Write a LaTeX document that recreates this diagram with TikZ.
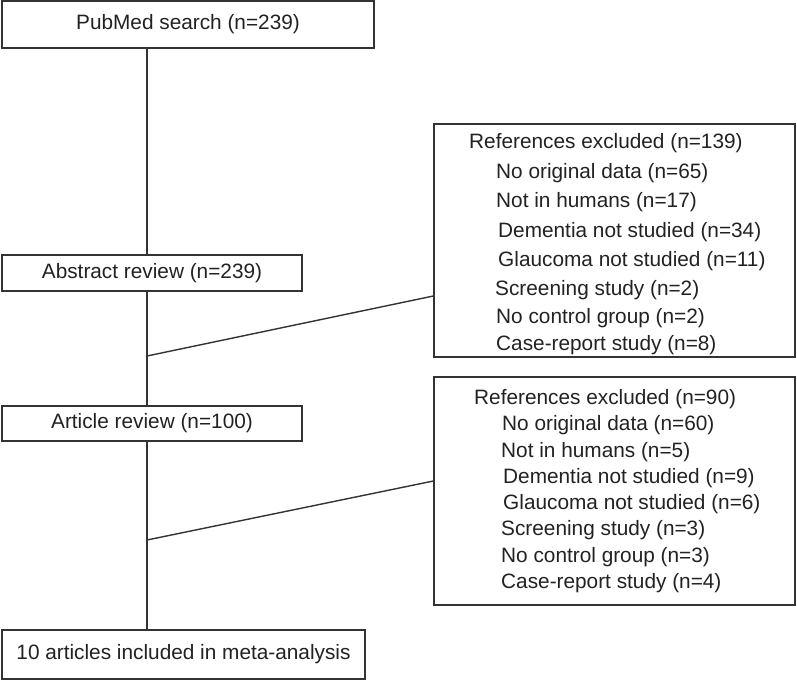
\documentclass[tikz,border=0pt]{standalone}
\usepackage{fontspec}
\setmainfont{Liberation Sans}
\definecolor{ink}{HTML}{222222}
\definecolor{edge}{HTML}{333333}
\begin{document}
\begin{tikzpicture}[x=1pt,y=-1pt,
  box/.style={draw=edge, line width=1.4pt, rectangle, inner sep=0pt, text=ink,
    font=\fontsize{20.8}{25}\selectfont},
  item/.style={anchor=base west, inner sep=0pt, text=ink,
    font=\fontsize{20.8}{25}\selectfont},
  conn/.style={draw=edge, line width=1.4pt}]
\useasboundingbox (0,0) rectangle (797,681);
\fill[white] (0,0) rectangle (797,681);
% left column boxes
\node[box, minimum width=372pt, minimum height=47pt] (pub) at (188,24.5) {PubMed search (n=239)};
\node[box, minimum width=300pt, minimum height=36pt] (abs) at (152,273) {\raisebox{1.5pt}{Abstract review (n=239)}};
\node[box, minimum width=300pt, minimum height=35pt] (art) at (152,423.5) {\raisebox{1.5pt}{Article review (n=100)}};
\node[box, minimum width=363pt, minimum height=49pt] (fin) at (183.5,654.5) {10 articles included in meta-analysis};
% right boxes
\node[box, minimum width=361pt, minimum height=233pt] (ex1) at (614.5,240.5) {};
\node[box, minimum width=361pt, minimum height=228pt] (ex2) at (614.5,491) {};
% texts of right box 1
\node[item] (a1) at (469,148.5) {References excluded (n=139)};
\node[item] (a2) at (496,178) {No original data (n=65)};
\node[item] (a3) at (496,207.5) {Not in humans (n=17)};
\node[item] (a4) at (498,237) {Dementia not studied (n=34)};
\node[item] (a5) at (498,266) {Glaucoma not studied (n=11)};
\node[item] (a6) at (495,295) {Screening study (n=2)};
\node[item] (a7) at (496,323) {No control group (n=2)};
\node[item] (a8) at (496,350.5) {Case-report study (n=8)};
% texts of right box 2
\node[item] (b1) at (474,404) {References excluded (n=90)};
\node[item] (b2) at (502,430.5) {No original data (n=60)};
\node[item] (b3) at (501,457) {Not in humans (n=5)};
\node[item] (b4) at (503,483) {Dementia not studied (n=9)};
\node[item] (b5) at (503,509) {Glaucoma not studied (n=6)};
\node[item] (b6) at (501,535.5) {Screening study (n=3)};
\node[item] (b7) at (501,562) {No control group (n=3)};
\node[item] (b8) at (501,588) {Case-report study (n=4)};
% junctions
\coordinate (j1) at (147,356);
\coordinate (j2) at (147,540);
\coordinate (e1) at (434,296);
\coordinate (e2) at (434,481);
% connectors
\draw[conn] (pub.south -| j1) -- (abs.north -| j1);
\draw[conn] (abs.south -| j1) -- (art.north -| j1);
\draw[conn] (art.south -| j1) -- (fin.north -| j1);
\draw[conn] (j1) -- (e1 -| ex1.west);
\draw[conn] (j2) -- (e2 -| ex2.west);
\end{tikzpicture}
\end{document}
